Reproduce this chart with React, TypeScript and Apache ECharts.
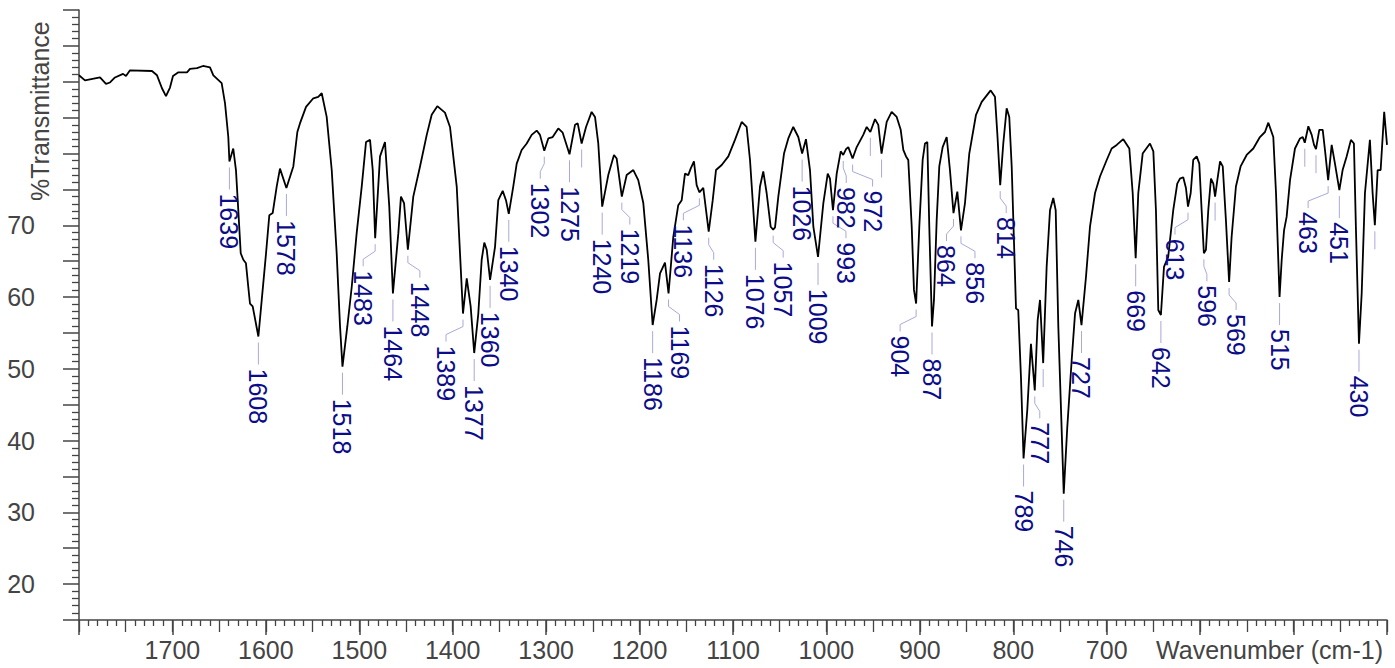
import React, { useEffect, useRef } from "react";
import * as echarts from "echarts";

// ---------- data ----------
const wavenumbers = [
  1800, 1793.6, 1777.5, 1771.1, 1766.8, 1761.5, 1752.9, 1749.7, 1745.4, 1721.9,
  1716.5, 1711.2, 1706.9, 1702.6, 1699.4, 1694.0, 1684.4, 1681.2, 1673.7, 1667.3,
  1659.8, 1656.2, 1647.3, 1643.7, 1640.2, 1639, 1634.9, 1632.0, 1629.5, 1626.9,
  1624.1, 1621.3, 1618.8, 1617.0, 1614.1, 1608, 1604.4, 1599.8, 1596.3, 1592.7,
  1588.4, 1584.9, 1578, 1570.6, 1566.3, 1563.5, 1557.0, 1549.2, 1543.9, 1540.2,
  1534.9, 1529.5, 1524.2, 1520.6, 1518, 1512.8, 1508.1, 1502.8, 1497.4, 1492.8,
  1488.5, 1485.6, 1483, 1477.8, 1472.5, 1467.9, 1464, 1458.2, 1455.4, 1452.1,
  1448, 1442.2, 1435.0, 1427.8, 1422.5, 1416.5, 1408.3, 1402.9, 1395.7, 1392.2,
  1389, 1385.0, 1380.8, 1377, 1372.6, 1369.0, 1366.2, 1363.6, 1360, 1354.7,
  1351.2, 1346.5, 1343.0, 1340, 1335.2, 1331.5, 1326.2, 1320.8, 1315.5, 1310.1,
  1306.6, 1302, 1297.7, 1293.0, 1287.0, 1282.3, 1275, 1269.1, 1266.2, 1262,
  1257.3, 1251.3, 1247.7, 1244.2, 1240, 1233.5, 1227.4, 1224.5, 1219, 1213.8,
  1206.7, 1201.4, 1196.0, 1190.7, 1186, 1181.7, 1178.1, 1172.8, 1169, 1163.9,
  1158.6, 1154.9, 1151.4, 1147.9, 1145.3, 1141.8, 1138.9, 1136, 1131.8, 1126,
  1121.7, 1118.2, 1112.1, 1105.0, 1097.9, 1090.7, 1085.4, 1081.8, 1076, 1071.1,
  1067.6, 1064.0, 1059.7, 1057, 1055, 1051.5, 1045.4, 1040.8, 1035.5, 1030.1,
  1026, 1021.9, 1017.6, 1014.0, 1009, 1003.3, 998.6, 996.2, 993, 989.0,
  984.7, 982, 979, 976.6, 972, 967.6, 960.6, 956.9, 953, 948.0,
  944.5, 941, 935.5, 930.2, 924.8, 920.5, 917.7, 914.8, 912.4, 908.7,
  906.3, 904, 900.6, 897.0, 894.5, 892.0, 889.9, 887, 884.9, 882.0,
  879.2, 875.6, 871.3, 867.8, 864, 859.9, 856, 851.7, 847.1, 839.9,
  833.8, 824.2, 819.6, 817.1, 814, 810.7, 807.1, 804.3, 801.7, 799.2,
  797.1, 794.7, 791.8, 789, 785.0, 781.1, 777, 773.9, 771.4, 768,
  764.3, 760.7, 757.2, 754.6, 751.8, 746, 742.2, 737.5, 733.9, 730.4,
  727, 722.2, 717.9, 712.5, 707.2, 700.0, 694.7, 689.3, 682.3, 675.8,
  672.2, 669, 666.2, 661.5, 653.7, 650.1, 647.3, 644.8, 642, 638.7,
  634.2, 628.8, 624.5, 621.6, 618.1, 615.2, 613, 610.1, 607.4, 603.7,
  600.9, 598.4, 596, 593.8, 591.3, 588.4, 585.9, 584, 581.6, 578.7,
  575.8, 572.4, 569, 566.3, 561.7, 556.7, 550.2, 543.1, 536.0, 530.6,
  527.0, 521.7, 518.8, 515, 512.7, 510.2, 507.4, 503.8, 498.5, 493.1,
  490.2, 488, 484.2, 480.6, 478.1, 476, 472.5, 468.8, 466.4, 463,
  459.2, 455.7, 451, 447.5, 443.2, 438.6, 435.4, 433.3, 430, 427.1,
  423.6, 418.3, 415.4, 413, 410.0, 406.8, 403.0, 400,
];

const transmittance = [
  90.9, 90.2, 90.6, 89.7, 89.9, 90.6, 91.1, 90.8, 91.6, 91.5,
  90.9, 89.1, 88.0, 89.2, 90.8, 91.3, 91.3, 91.8, 91.9, 92.2,
  92.0, 90.9, 89.8, 87.0, 82.3, 78.9, 80.7, 77.7, 72.1, 66.1,
  65.2, 64.7, 61.4, 59.1, 58.7, 54.5, 59.6, 66.1, 71.4, 71.7,
  75.4, 77.9, 75.2, 78.2, 83.0, 84.2, 86.5, 87.7, 87.9, 88.4,
  85.1, 77.7, 66.1, 55.9, 50.3, 55.9, 61.4, 68.9, 75.4, 81.6,
  81.9, 77.7, 68.2, 79.6, 81.6, 72.6, 60.5, 68.9, 74.0, 73.1,
  66.6, 74.0, 78.2, 82.6, 85.4, 86.6, 85.7, 83.7, 75.4, 66.1,
  57.7, 62.6, 58.7, 52.2, 57.7, 65.2, 67.6, 66.6, 62.4, 67.0,
  73.5, 74.8, 73.5, 71.6, 75.4, 78.6, 80.5, 81.4, 82.6, 83.2,
  82.6, 80.4, 82.1, 82.3, 83.5, 82.9, 79.9, 84.0, 84.2, 81.4,
  83.7, 85.8, 85.1, 81.4, 72.6, 77.0, 79.8, 79.3, 74.0, 77.0,
  77.7, 76.3, 73.1, 65.2, 56.1, 59.6, 63.3, 64.8, 60.5, 68.4,
  72.8, 73.5, 77.2, 77.0, 77.9, 78.9, 75.6, 74.6, 75.2, 69.1,
  73.5, 77.7, 78.4, 79.6, 81.9, 84.4, 83.7, 79.1, 67.7, 75.4,
  77.5, 74.5, 69.8, 69.4, 69.7, 74.0, 80.0, 82.1, 83.7, 82.3,
  80.0, 82.0, 77.7, 69.8, 65.6, 73.1, 77.2, 76.5, 72.1, 77.2,
  80.3, 79.8, 80.6, 80.9, 79.3, 80.9, 82.6, 83.7, 83.0, 84.8,
  84.0, 80.0, 84.4, 85.8, 85.1, 83.3, 80.5, 79.6, 79.1, 69.8,
  61.0, 59.1, 69.8, 79.1, 81.4, 81.6, 69.8, 55.9, 59.6, 70.7,
  78.2, 80.9, 82.3, 77.7, 71.7, 74.7, 69.3, 73.1, 80.0, 85.4,
  87.2, 88.8, 87.9, 82.8, 75.6, 81.4, 86.3, 85.1, 78.2, 67.5,
  58.4, 58.2, 48.9, 37.5, 44.3, 53.5, 47.0, 56.8, 59.6, 50.8,
  64.2, 72.1, 73.8, 72.1, 55.9, 32.6, 41.9, 51.2, 57.7, 59.6,
  56.1, 62.8, 69.8, 74.5, 76.8, 79.1, 80.7, 81.2, 82.0, 80.7,
  74.5, 65.4, 74.5, 80.0, 81.4, 80.3, 72.1, 58.2, 57.5, 64.2,
  65.6, 72.1, 75.8, 76.5, 76.7, 75.2, 72.6, 74.5, 79.1, 79.6,
  78.6, 72.1, 66.1, 66.6, 72.1, 76.5, 75.8, 74.0, 76.3, 78.9,
  78.2, 70.7, 62.1, 68.4, 75.4, 78.2, 79.8, 80.7, 82.3, 83.0,
  84.3, 82.3, 74.5, 60.0, 65.2, 69.3, 71.2, 76.3, 80.7, 82.1,
  82.3, 81.5, 83.8, 82.6, 81.2, 80.6, 83.3, 83.3, 80.5, 76.3,
  81.2, 78.6, 74.9, 77.7, 79.6, 81.9, 81.4, 69.8, 53.5, 60.5,
  74.5, 81.9, 74.5, 70.0, 77.7, 77.7, 85.8, 81.2,
];

// labelled peaks (wavenumber, cm-1)
const labelledPeaks = [
  1639, 1608, 1578, 1518, 1483, 1464, 1448, 1389, 1377, 1360, 1340, 1302, 1275,
  1240, 1219, 1186, 1169, 1136, 1126, 1076, 1057, 1026, 1009, 993, 982, 972,
  904, 887, 864, 856, 814, 789, 777, 746, 727, 669, 642, 613, 596, 569, 515,
  463, 451, 430,
];
// peaks that only carry a marker line
const unlabelledPeaks = [1262, 953, 941, 768, 584, 488, 476, 413];

// ---------- layout (pixel shifts of crowded labels) ----------
const labelShift: Record<number, number> = {
  1483: -12, 1448: 12, 1389: -17, 1302: -4, 1219: 8, 1169: 11, 1136: -16,
  1126: 5, 1057: 10, 993: 13, 982: 3, 972: 20, 904: -16, 864: -7, 856: 14,
  814: 6, 777: 5, 613: -13, 596: 3, 569: 7, 463: -20,
};

const FONT = "'Liberation Sans', Arial, Helvetica, sans-serif";
const AXIS_COLOR = "#444444";
const PEAK_COLOR = "#0c0c88";
const LEADER_COLOR = "#a9a9d9";

function valueAt(w: number): number {
  for (let i = 0; i < wavenumbers.length - 1; i++) {
    const a = wavenumbers[i];
    const b = wavenumbers[i + 1];
    if (w <= a && w >= b) {
      const f = a === b ? 0 : (a - w) / (a - b);
      return transmittance[i] + f * (transmittance[i + 1] - transmittance[i]);
    }
  }
  return transmittance[transmittance.length - 1];
}

export default function App() {
  const ref = useRef<HTMLDivElement>(null);

  useEffect(() => {
    if (!ref.current) return;
    const chart = echarts.init(ref.current, undefined, { renderer: "svg" });

    const spectrum = wavenumbers.map((w, i) => [w, transmittance[i]]);
    const peakData = [
      ...labelledPeaks.map((w) => [w, valueAt(w), labelShift[w] || 0, 1]),
      ...unlabelledPeaks.map((w) => [w, valueAt(w), 0, 0]),
    ];

    const renderPeak = (_params: any, api: any) => {
      const w = api.value(0);
      const t = api.value(1);
      const dx = api.value(2);
      const show = api.value(3);
      const p = api.coord([w, t]);
      const x = p[0];
      const y = p[1];
      const children: any[] = [];
      if (show) {
        const pts =
          dx === 0
            ? [
                [x, y + 6],
                [x, y + 28],
              ]
            : [
                [x, y + 6],
                [x, y + 13],
                [x + dx, y + 21],
                [x + dx, y + 28],
              ];
        children.push({
          type: "polyline",
          shape: { points: pts },
          style: { stroke: LEADER_COLOR, lineWidth: 1, fill: null },
        });
        children.push({
          type: "text",
          x: x + dx,
          y: y + 32,
          rotation: -Math.PI / 2,
          style: {
            text: String(w),
            fill: PEAK_COLOR,
            font: `25px ${FONT}`,
            align: "left",
            verticalAlign: "middle",
          },
        });
      } else {
        children.push({
          type: "line",
          shape: { x1: x, y1: y + 6, x2: x, y2: y + 24 },
          style: { stroke: LEADER_COLOR, lineWidth: 1 },
        });
      }
      return { type: "group", children };
    };

    const xBase = {
      type: "value",
      min: 400,
      max: 1800,
      inverse: true,
      position: "bottom",
      splitLine: { show: false },
    };

    chart.setOption({
      animation: false,
      backgroundColor: "#ffffff",
      grid: { left: 79, right: 8, top: 10, bottom: 48, containLabel: false },
      xAxis: [
        {
          ...xBase,
          interval: 50,
          axisLine: { show: true, lineStyle: { color: AXIS_COLOR, width: 1.5 } },
          axisTick: { show: true, length: 12, lineStyle: { color: AXIS_COLOR, width: 1.3 } },
          minorTick: { show: true, splitNumber: 5, length: 6, lineStyle: { color: AXIS_COLOR, width: 1.3 } },
          axisLabel: { show: false },
        },
        {
          ...xBase,
          interval: 100,
          axisLine: { show: false },
          axisTick: { show: true, length: 15, lineStyle: { color: AXIS_COLOR, width: 1.5 } },
          axisLabel: {
            show: true,
            margin: 17,
            color: AXIS_COLOR,
            fontSize: 25,
            fontFamily: FONT,
            formatter: (v: number) => (v >= 700 && v <= 1700 ? String(v) : ""),
          },
        },
      ],
      yAxis: {
        type: "value",
        min: 15,
        max: 100,
        interval: 5,
        splitLine: { show: false },
        axisLine: { show: true, lineStyle: { color: AXIS_COLOR, width: 1.5 } },
        axisTick: { show: true, length: 16, lineStyle: { color: AXIS_COLOR, width: 1.5 } },
        minorTick: { show: true, splitNumber: 5, length: 7, lineStyle: { color: AXIS_COLOR, width: 1.3 } },
        axisLabel: {
          margin: 44,
          color: AXIS_COLOR,
          fontSize: 25,
          fontFamily: FONT,
          formatter: (v: number) => (v % 10 === 0 && v >= 20 && v <= 70 ? String(v) : ""),
        },
      },
      graphic: [
        {
          type: "text",
          x: 40,
          y: 201,
          rotation: Math.PI / 2,
          style: {
            text: "%Transmittance",
            fill: AXIS_COLOR,
            font: `25px ${FONT}`,
            align: "left",
            verticalAlign: "middle",
          },
        },
        {
          type: "text",
          x: 1383,
          y: 637,
          style: {
            text: "Wavenumber (cm-1)",
            fill: AXIS_COLOR,
            font: `25px ${FONT}`,
            align: "right",
            verticalAlign: "top",
          },
        },
      ],
      series: [
        {
          type: "line",
          xAxisIndex: 0,
          data: spectrum,
          symbol: "none",
          lineStyle: { color: "#000000", width: 1.8 },
          silent: true,
          z: 2,
        },
        {
          type: "custom",
          xAxisIndex: 0,
          data: peakData,
          renderItem: renderPeak,
          clip: false,
          silent: true,
          z: 3,
        },
      ],
    });

    return () => chart.dispose();
  }, []);

  return (
    <div
      ref={ref}
      style={{ position: "fixed", left: 0, top: 0, width: "1395px", height: "668px" }}
    />
  );
}
